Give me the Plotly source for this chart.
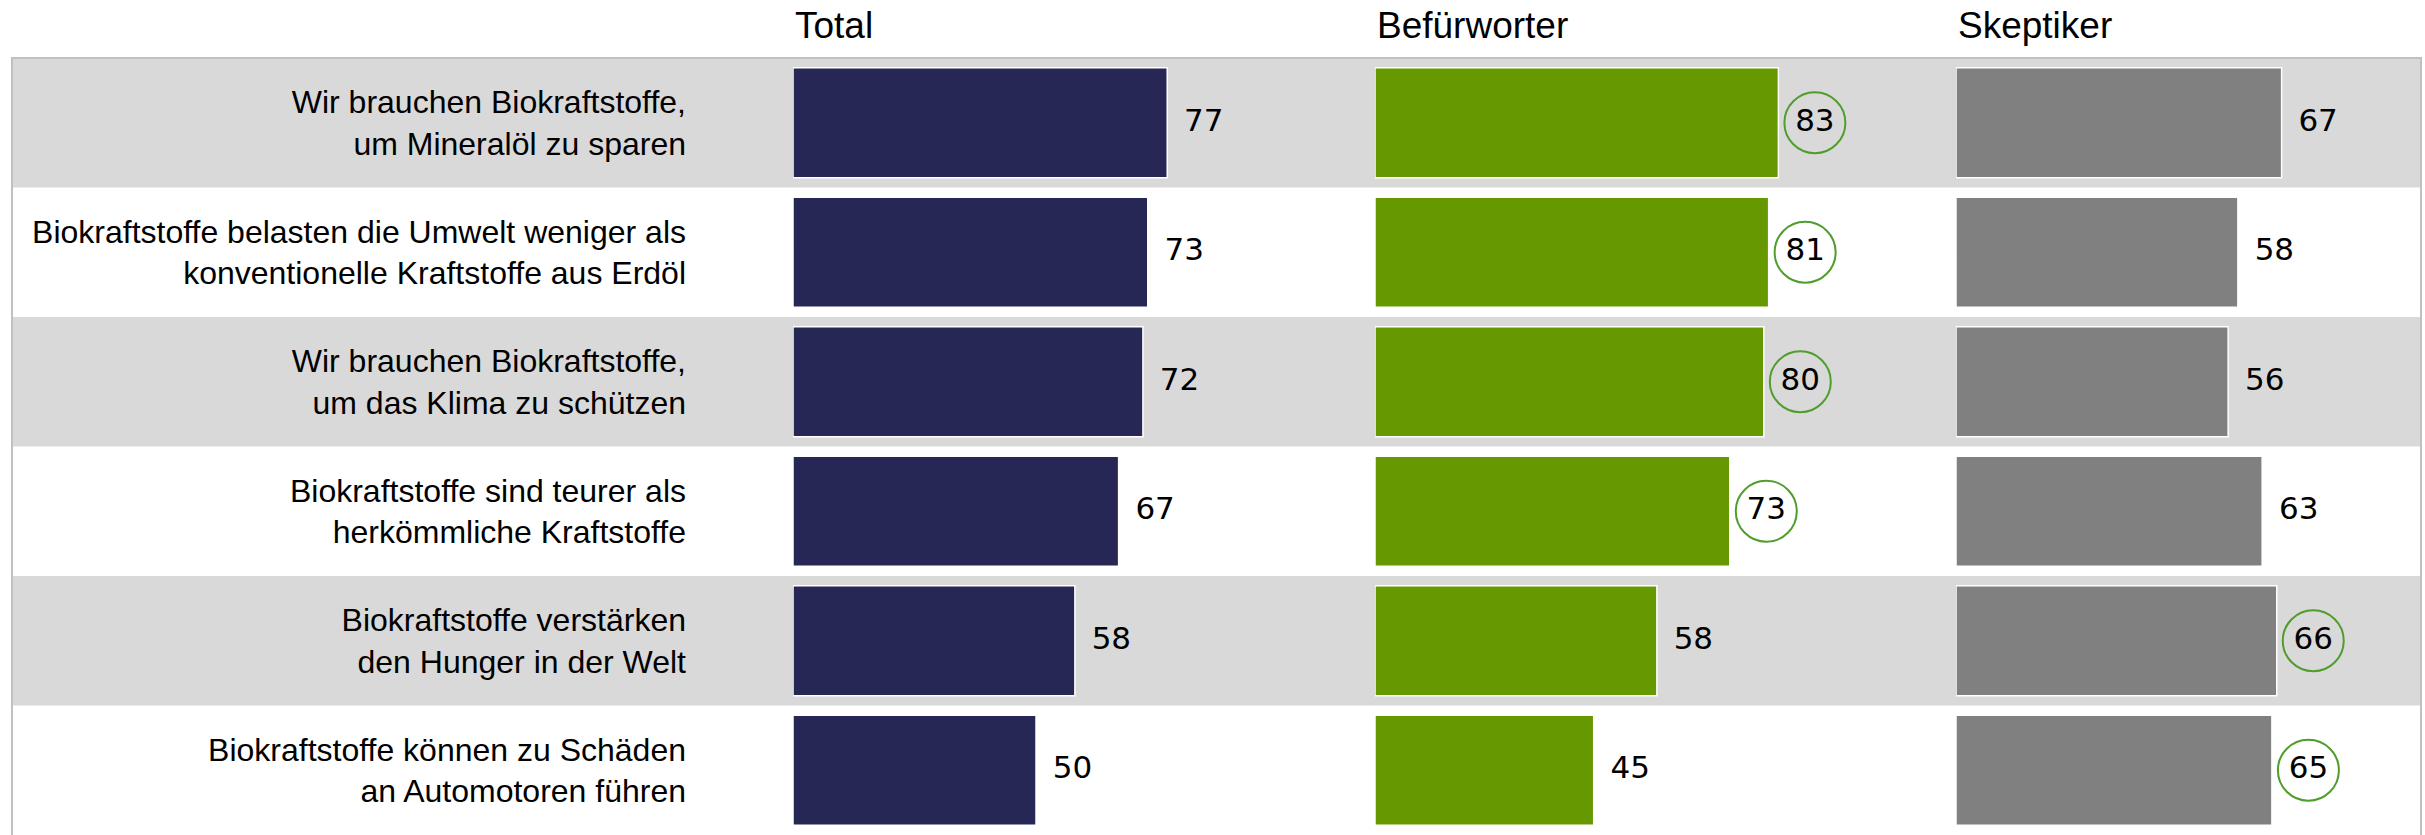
import plotly.graph_objects as go

categories = [
    "Wir brauchen Biokraftstoffe,<br>um Mineralöl zu sparen",
    "Biokraftstoffe belasten die Umwelt weniger als<br>konventionelle Kraftstoffe aus Erdöl",
    "Wir brauchen Biokraftstoffe,<br>um das Klima zu schützen",
    "Biokraftstoffe sind teurer als<br>herkömmliche Kraftstoffe",
    "Biokraftstoffe verstärken<br>den Hunger in der Welt",
    "Biokraftstoffe können zu Schäden<br>an Automotoren führen",
]
groups = ["Total", "Befürworter", "Skeptiker"]
total_vals = [77, 73, 72, 67, 58, 50]
befuerworter_vals = [83, 81, 80, 73, 58, 45]
skeptiker_vals = [67, 58, 56, 63, 66, 65]
total_flag = [False] * 6
befuerworter_flag = [True, True, True, True, False, False]
skeptiker_flag = [False, False, False, False, True, True]

W, H = 2425, 835
TOP = 58
PX_PER_UNIT = 4.86
XMAX = 95
panel_left_px = [793, 1375, 1956]
bar_colors = ["#262754", "#669900", "#808080"]
circle_color = "#4f9d2a"
LABEL_OFFSET_PX = 36.5

series = [total_vals, befuerworter_vals, skeptiker_vals]
flags = [total_flag, befuerworter_flag, skeptiker_flag]
rows = list(range(len(categories)))

fig = go.Figure()
off = LABEL_OFFSET_PX / PX_PER_UNIT
for i, (vals, flg) in enumerate(zip(series, flags)):
    xa = "x" if i == 0 else f"x{i+1}"
    fig.add_trace(go.Bar(
        x=vals, y=rows, orientation="h", xaxis=xa, yaxis="y",
        marker=dict(color=bar_colors[i], line=dict(color="white", width=1.5)),
        width=0.85, showlegend=False, hoverinfo="x",
    ))
    fig.add_trace(go.Scatter(
        x=[v + off for v in vals], y=rows, xaxis=xa, yaxis="y",
        mode="markers+text", text=[str(v) for v in vals],
        textposition="middle center",
        textfont=dict(family="DejaVu Sans", size=31, color="black"),
        marker=dict(symbol="circle-open", size=61,
                    color=[circle_color if f else "rgba(0,0,0,0)" for f in flg],
                    line=dict(width=2)),
        cliponaxis=False, showlegend=False, hoverinfo="skip",
    ))

layout = dict(
    width=W, height=H,
    margin=dict(l=0, r=0, t=0, b=0),
    paper_bgcolor="white", plot_bgcolor="rgba(0,0,0,0)",
    bargap=0.15,
    yaxis=dict(
        domain=[0, 1 - TOP / H], range=[len(categories) - 0.5, -0.5],
        tickvals=rows, ticktext=categories, anchor="free",
        position=686 / W,
        showgrid=False, zeroline=False, showline=False, ticks="",
        tickfont=dict(family="Liberation Sans, Arial", size=32, color="black"),
    ),
)
for i in range(3):
    key = "xaxis" if i == 0 else f"xaxis{i+1}"
    layout[key] = dict(
        domain=[panel_left_px[i] / W, (panel_left_px[i] + XMAX * PX_PER_UNIT) / W],
        range=[0, XMAX], visible=False, anchor="y", fixedrange=True,
    )
fig.update_layout(**layout)

shapes = []
bx0, bx1 = 12 / W, 2421 / W
for r in rows:
    if r % 2 == 0:
        shapes.append(dict(type="rect", xref="paper", yref="y",
                           x0=bx0, x1=bx1, y0=r - 0.5, y1=r + 0.5,
                           fillcolor="#d9d9d9", line=dict(width=0), layer="below"))
shapes.append(dict(type="rect", xref="paper", yref="paper",
                   x0=bx0, x1=bx1, y0=-0.2, y1=1 - TOP / H,
                   fillcolor="rgba(0,0,0,0)", line=dict(color="#c0c0c0", width=2),
                   layer="above"))
fig.update_layout(shapes=shapes)

annotations = []
for i, g in enumerate(groups):
    xr = "x domain" if i == 0 else f"x{i+1} domain"
    annotations.append(dict(
        text=g, xref=xr, x=0, xanchor="left", yref="paper",
        y=1 - 25 / H, yanchor="middle", showarrow=False,
        font=dict(family="Liberation Sans, Arial", size=37, color="black"),
    ))
fig.update_layout(annotations=annotations)

fig.write_html("out.html",
               config={"displayModeBar": False},
               post_script="document.body.style.margin='0';document.body.style.overflow='hidden';")
